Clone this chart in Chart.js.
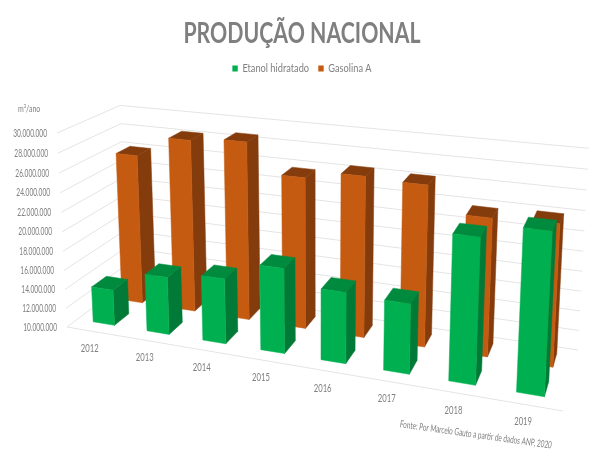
<!DOCTYPE html>
<html>
<head>
<meta charset="utf-8">
<title>Produção Nacional</title>
<script src="https://cdn.jsdelivr.net/npm/chart.js@4/dist/chart.umd.min.js"></script>
<style>
    html, body { margin: 0; padding: 0; background: #fff; }
    #wrap { width: 604px; height: 466px; }
</style>
</head>
<body>
<div id="wrap"><canvas id="chart-producao"></canvas></div>
<script>
const categories = ['2012', '2013', '2014', '2015', '2016', '2017', '2018', '2019'];
const etanolValues = [13750000, 15950000, 16650000, 18550000, 17050000, 16850000, 23950000, 25250000];
const gasolinaValues = [26050000, 28250000, 28650000, 25650000, 26450000, 26250000, 23750000, 23950000];
const axisMin = 10000000;
const axisMax = 30000000;
const axisStep = 2000000;
const unitLabel = 'm³/ano';
const sourceNote = 'Fonte: Por Marcelo Gauto a partir de dados ANP, 2020';

const TEXT_COLOR = '#7f7f7f';
const GRID_COLOR = '#e4e4e4';
const FONT = 'Lato';

// floor corners of the 3D box on screen: front-left, front-right, back-right, back-left
const FLOOR = [[67, 327], [563, 411], [578, 350], [127, 282]];
const TOP_FRONT_LEFT_Y = 133;
const VANISH_DOWN = [317, 5183];

// depth slot of each series, 0 = front, 1 = back
const DEPTH = [[0.16, 0.40], [0.64, 0.88]];
const FACES = [
    { front: '#00b050', top: '#008a3e', side: '#007a36' },
    { front: '#c55a11', top: '#843c0c', side: '#843c0c' }
];

function buildCamera() {
    const [[x0, y0], [x1, y1], [x2, y2], [x3, y3]] = FLOOR;
    const dx1 = x1 - x2, dx2 = x3 - x2, sx = x0 - x1 + x2 - x3;
    const dy1 = y1 - y2, dy2 = y3 - y2, sy = y0 - y1 + y2 - y3;
    const den = dx1 * dy2 - dx2 * dy1;
    const g = (sx * dy2 - dx2 * sy) / den;
    const h = (dx1 * sy - sx * dy1) / den;
    const w = (TOP_FRONT_LEFT_Y - y0) / (VANISH_DOWN[1] - TOP_FRONT_LEFT_Y);
    return {
        cx: [x1 - x0 + g * x1, y1 - y0 + g * y1, g],
        cz: [x3 - x0 + h * x3, y3 - y0 + h * y3, h],
        cy: [w * VANISH_DOWN[0], w * VANISH_DOWN[1], w],
        co: [x0, y0, 1]
    };
}

const cam = buildCamera();

// u along the categories, t up the value axis, z into the depth, all 0..1
function project(u, t, z) {
    const p = [0, 1, 2].map(i => cam.cx[i] * u + cam.cy[i] * t + cam.cz[i] * z + cam.co[i]);
    return [p[0] / p[2], p[1] / p[2]];
}

function fillQuad(ctx, pts, color) {
    ctx.beginPath();
    pts.forEach((p, i) => (i ? ctx.lineTo(p[0], p[1]) : ctx.moveTo(p[0], p[1])));
    ctx.closePath();
    ctx.fillStyle = color;
    ctx.strokeStyle = color;
    ctx.lineWidth = 0.5;
    ctx.fill();
    ctx.stroke();
}

function drawLine(ctx, a, b) {
    ctx.beginPath();
    ctx.moveTo(a[0], a[1]);
    ctx.lineTo(b[0], b[1]);
    ctx.stroke();
}

// condensed text: the labels here are much narrower than any installed face
function squeezedText(ctx, text, x, y, squeeze, angle) {
    ctx.save();
    ctx.translate(x, y);
    if (angle) ctx.rotate(angle * Math.PI / 180);
    ctx.scale(squeeze, 1);
    ctx.fillText(text, 0, 0);
    ctx.restore();
}

// same condensing for the title and legend boxes, around the chart's centre line
function squeezeBox(chart, box, squeeze) {
    const drawBox = box.draw;
    const mid = chart.width / 2;
    box.draw = function (...args) {
        const ctx = chart.ctx;
        ctx.save();
        ctx.translate(mid, 0);
        ctx.scale(squeeze, 1);
        ctx.translate(-mid, 0);
        drawBox.apply(box, args);
        ctx.restore();
    };
}

function drawWalls(chart, ctx) {
    const yScale = chart.scales.y;
    const area = chart.chartArea;
    ctx.strokeStyle = GRID_COLOR;
    ctx.lineWidth = 1;
    yScale.ticks.forEach(tick => {
        const t = (area.bottom - yScale.getPixelForValue(tick.value)) / area.height;
        const corner = project(0, t, 1);
        drawLine(ctx, project(0, t, 0), corner);
        drawLine(ctx, corner, project(1, t, 1));
    });
    drawLine(ctx, project(0, 0, 0), project(1, 0, 0));
}

function drawBars(chart, ctx) {
    const area = chart.chartArea;
    // back row first so the front row covers it
    [1, 0].forEach(index => {
        const [z0, z1] = DEPTH[index];
        const colors = FACES[index];
        chart.getDatasetMeta(index).data.forEach(bar => {
            const u0 = (bar.x - bar.width / 2 - area.left) / area.width;
            const u1 = (bar.x + bar.width / 2 - area.left) / area.width;
            const t = (area.bottom - bar.y) / area.height;
            fillQuad(ctx, [project(u1, 0, z0), project(u1, 0, z1), project(u1, t, z1), project(u1, t, z0)], colors.side);
            fillQuad(ctx, [project(u0, t, z0), project(u1, t, z0), project(u1, t, z1), project(u0, t, z1)], colors.top);
            fillQuad(ctx, [project(u0, 0, z0), project(u1, 0, z0), project(u1, t, z0), project(u0, t, z0)], colors.front);
        });
    });
}

function drawLabels(chart, ctx) {
    const yScale = chart.scales.y;
    const xScale = chart.scales.x;
    const area = chart.chartArea;
    ctx.fillStyle = TEXT_COLOR;
    ctx.font = `11px ${FONT}`;
    ctx.textBaseline = 'middle';

    ctx.textAlign = 'right';
    yScale.ticks.forEach(tick => {
        const t = (area.bottom - yScale.getPixelForValue(tick.value)) / area.height;
        const p = project(0, t, 0);
        squeezedText(ctx, tick.label, p[0] - 10, p[1], 0.6);
    });

    ctx.textAlign = 'center';
    xScale.ticks.forEach((tick, i) => {
        const u = (xScale.getPixelForTick(i) - area.left) / area.width;
        const p = project(u, 0, 0);
        squeezedText(ctx, tick.label, p[0] - 4, p[1] + 17, 0.7);
    });

    ctx.font = `10px ${FONT}`;
    ctx.textAlign = 'left';
    squeezedText(ctx, unitLabel, 18, 109, 0.7);
    squeezedText(ctx, sourceNote, 400, 424, 0.64, 8);
}

const box3dPlugin = {
    id: 'box3d',
    beforeDraw(chart) {
        if (chart.$squeezed) return;
        chart.$squeezed = true;
        squeezeBox(chart, chart.titleBlock, 0.76);
        squeezeBox(chart, chart.legend, 0.77);
    },
    beforeDatasetsDraw(chart) {
        const ctx = chart.ctx;
        ctx.save();
        drawWalls(chart, ctx);
        drawBars(chart, ctx);
        drawLabels(chart, ctx);
        ctx.restore();
        return false;
    }
};

document.addEventListener('DOMContentLoaded', () => {
    new Chart(document.getElementById('chart-producao'), {
        type: 'bar',
        data: {
            labels: categories,
            datasets: [
                { label: 'Etanol hidratado', data: etanolValues, backgroundColor: FACES[0].front, grouped: false },
                { label: 'Gasolina A', data: gasolinaValues, backgroundColor: FACES[1].front, grouped: false }
            ]
        },
        options: {
            responsive: true,
            maintainAspectRatio: false,
            animation: false,
            layout: { padding: { top: 17 } },
            datasets: { bar: { barPercentage: 0.4, categoryPercentage: 1 } },
            scales: {
                x: { display: false, ticks: { autoSkip: false } },
                y: {
                    display: false,
                    min: axisMin,
                    max: axisMax,
                    ticks: {
                        stepSize: axisStep,
                        autoSkip: false,
                        callback: v => String(v).replace(/\B(?=(\d{3})+$)/g, '.')
                    }
                }
            },
            plugins: {
                tooltip: { enabled: false },
                title: {
                    display: true,
                    text: 'PRODUÇÃO NACIONAL',
                    color: TEXT_COLOR,
                    font: { family: FONT, size: 28, weight: 'bold' },
                    padding: { top: 0, bottom: 0 }
                },
                legend: {
                    position: 'top',
                    labels: {
                        color: TEXT_COLOR,
                        font: { family: FONT, size: 12 },
                        boxWidth: 7,
                        boxHeight: 6,
                        padding: 12
                    }
                }
            }
        },
        plugins: [box3dPlugin]
    });
});
</script>
</body>
</html>
